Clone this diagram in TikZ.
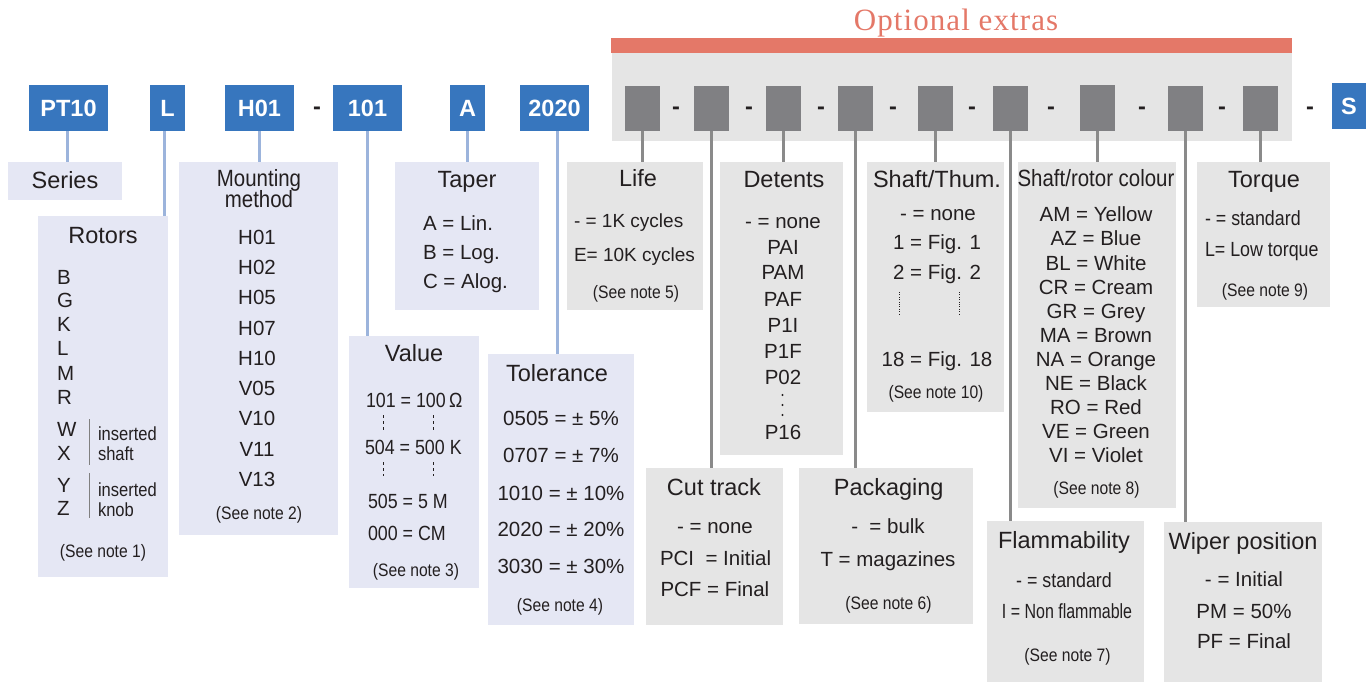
\documentclass[tikz,border=0pt]{standalone}
\usepackage{fontspec}
\setmainfont{Liberation Sans}
\newfontfamily\condA{Liberation Sans}[FakeStretch=0.87]
\newfontfamily\condB{Liberation Sans}[FakeStretch=0.78]
\newfontfamily\serifT{Liberation Serif}[LetterSpace=3.5]
\usetikzlibrary{fit}
\definecolor{bluebx}{HTML}{3776BE}
\definecolor{lavbx}{HTML}{E5E7F4}
\definecolor{blueln}{HTML}{9CB4DC}
\definecolor{greybx}{HTML}{E5E5E5}
\definecolor{darkbx}{HTML}{808083}
\definecolor{greyln}{HTML}{8A8A8A}
\definecolor{redc}{HTML}{E47868}
\definecolor{txt}{HTML}{231F20}
\tikzset{
  bx/.style={inner sep=0pt, outer sep=0pt},
  bluebox/.style={bx, fill=bluebx},
  blab/.style={inner sep=0pt, text=white, font=\fontsize{23.5}{24}\selectfont\bfseries, text height=16.8pt, text depth=0pt},
  lavbox/.style={bx, fill=lavbx},
  greybox/.style={bx, fill=greybx},
  darkbox/.style={bx, fill=darkbx},
  redbar/.style={bx, fill=redc},
  bconn/.style={draw=blueln, line width=3pt},
  gconn/.style={draw=greyln, line width=3pt},
  tx/.style={inner sep=0pt, outer sep=0pt, text=txt, text depth=0pt},
  ttl/.style={tx, font=\fontsize{23.5}{24}\selectfont, text height=16.8pt},
  ttlc/.style={tx, font=\condA\fontsize{23.5}{24}\selectfont, text height=16.8pt},
  bod/.style={tx, font=\fontsize{20.5}{22}\selectfont, text height=14.7pt},
  bods/.style={tx, font=\fontsize{19}{21}\selectfont, text height=13.6pt},
  bodc/.style={tx, font=\condA\fontsize{20.5}{22}\selectfont, text height=14.7pt},
  bodcc/.style={tx, font=\condB\fontsize{20.5}{22}\selectfont, text height=14.7pt},
  nte/.style={tx, font=\condA\fontsize{18}{20}\selectfont, text height=9.4pt},
  smallc/.style={tx, font=\condA\fontsize{19}{20}\selectfont, text height=13.7pt},
  hy/.style={inner sep=0pt, text=txt, font=\fontsize{23.5}{24}\selectfont\bfseries, anchor=base},
  opt/.style={inner sep=0pt, text=redc, font=\serifT\fontsize{31}{32}\selectfont, text height=20.5pt, text depth=0pt},
  vbar/.style={draw=gray, line width=0.9pt},
  dashv/.style={draw=txt, line width=0.8pt, dash pattern=on 3pt off 3pt},
  dotv/.style={draw=txt, line width=0.8pt, dash pattern=on 1pt off 1.4pt},
}
\begin{document}
\begin{tikzpicture}[x=1pt,y=-1pt]
\useasboundingbox (0,0) rectangle (1372,682);

% ---------- optional extras header ----------
\node[opt] (opttitle) at (956,20) {Optional extras};
\node[redbar, fit={(611,38)(1292,53)}] (bar) {};
\node[greybox, fit={(612,53)(1292,141)}] (panel) {};

% ---------- main code row ----------
\node[bluebox, fit={(29,85)(108,131)}] (pt10) {};
\node[bluebox, fit={(150,85)(185,131)}] (bL) {};
\node[bluebox, fit={(225,85)(294,131)}] (bH) {};
\node[bluebox, fit={(333,85)(402,131)}] (b101) {};
\node[bluebox, fit={(450,85)(485,131)}] (bA) {};
\node[bluebox, fit={(520,85)(589,131)}] (b2020) {};
\node[blab] (pt10t) at (pt10.center) {PT10};
\node[blab] (bLt) at (bL.center) {L};
\node[blab] (bHt) at (bH.center) {H01};
\node[blab] (b101t) at (b101.center) {101};
\node[blab] (bAt) at (bA.center) {A};
\node[blab] (b2020t) at (b2020.center) {2020};
\node[hy] (hy0) at (317,114) {-};

% optional grey boxes
\node[darkbox, fit={(625,86)(660,131)}] (g1) {};
\node[darkbox, fit={(694,86)(729,131)}] (g2) {};
\node[darkbox, fit={(766,86)(801,131)}] (g3) {};
\node[darkbox, fit={(838,86)(873,131)}] (g4) {};
\node[darkbox, fit={(918,86)(953,131)}] (g5) {};
\node[darkbox, fit={(993,86)(1028,131)}] (g6) {};
\node[darkbox, fit={(1080,85)(1115,131)}] (g7) {};
\node[darkbox, fit={(1168,86)(1203,131)}] (g8) {};
\node[darkbox, fit={(1243,86)(1278,131)}] (g9) {};
\foreach \xx [count=\i] in {676,749,821,893,972,1051,1142,1222,1310}
  \node[hy] (hy\i) at (\xx,115) {-};
\node[bluebox, fit={(1332,83)(1366,129)}] (bS) {};
\node[blab] (bSt) at (bS.center) {S};

% ---------- description boxes ----------
\node[lavbox, fit={(8,162)(122,200)}] (series) {};
\node[lavbox, fit={(38,216)(168,577)}] (rotors) {};
\node[lavbox, fit={(179,162)(338,535)}] (mount) {};
\node[lavbox, fit={(395,162)(539,310)}] (taper) {};
\node[lavbox, fit={(349,336)(479,588)}] (value) {};
\node[lavbox, fit={(488,354)(634,625)}] (tol) {};

\node[greybox, fit={(567,162)(703,310)}] (life) {};
\node[greybox, fit={(646,468)(783,625)}] (cut) {};
\node[greybox, fit={(720,162)(843,455)}] (det) {};
\node[greybox, fit={(799,468)(973,624)}] (pack) {};
\node[greybox, fit={(867,162)(1004,412)}] (shth) {};
\node[greybox, fit={(1018,162)(1176,508)}] (src) {};
\node[greybox, fit={(987,521)(1144,682)}] (flam) {};
\node[greybox, fit={(1197,162)(1330,307)}] (torq) {};
\node[greybox, fit={(1164,522)(1322,682)}] (wipe) {};

% ---------- connectors ----------
\draw[bconn] ([xshift=-1.5pt]pt10.south) -- ([xshift=-1.5pt]pt10.south |- series.north);
\draw[bconn] ([xshift=-3.5pt]bL.south) -- ([xshift=-3.5pt]bL.south |- rotors.north);
\draw[bconn] (bH.south) -- (bH.south |- mount.north);
\draw[bconn] (b101.south) -- (b101.south |- value.north);
\draw[bconn] (bA.south) -- (bA.south |- taper.north);
\draw[bconn] ([xshift=2.5pt]b2020.south) -- ([xshift=2.5pt]b2020.south |- tol.north);

\draw[gconn] (g1.south) -- (g1.south |- life.north);
\draw[gconn] (g2.south) -- (g2.south |- cut.north);
\draw[gconn] (g3.south) -- (g3.south |- det.north);
\draw[gconn] (g4.south) -- (g4.south |- pack.north);
\draw[gconn] (g5.south) -- (g5.south |- shth.north);
\draw[gconn] (g6.south) -- (g6.south |- flam.north);
\draw[gconn] (g7.south) -- (g7.south |- src.north);
\draw[gconn] (g8.south) -- (g8.south |- wipe.north);
\draw[gconn] (g9.south) -- (g9.south |- torq.north);

% ---------- Series ----------
\node[ttl] (tseries) at (65,180) {Series};

% ---------- Rotors ----------
\node[ttl] (trotors) at (103,235) {Rotors};
\foreach \t/\yy [count=\i] in {B/277,G/300,K/324,L/348,M/373,R/397,W/429,X/453,Y/485,Z/508}
  \node[bod, anchor=west] (rot\i) at (57,\yy) {\t};
\coordinate (bar1a) at (89,419); \coordinate (bar1b) at (89,465);
\coordinate (bar2a) at (89,473); \coordinate (bar2b) at (89,518);
\draw[vbar] (bar1a) -- (bar1b);
\draw[vbar] (bar2a) -- (bar2b);
\node[smallc, anchor=west] (ins1) at (98,434) {inserted};
\node[smallc, anchor=west] (ins2) at (98,454) {shaft};
\node[smallc, anchor=west] (ins3) at (98,490) {inserted};
\node[smallc, anchor=west] (ins4) at (98,510) {knob};
\node[nte] (n1) at (103,553) {(See note 1)};

% ---------- Mounting method ----------
\node[ttlc] (tmount1) at (259,178.5) {Mounting};
\node[ttlc] (tmount2) at (259,199.5) {method};
\foreach \t [count=\i from 0] in {H01,H02,H05,H07,H10,V05,V10,V11,V13}
  \node[bod] (mm\i) at (257,{237+30.25*\i}) {\t};
\node[nte] (n2) at (259,515) {(See note 2)};

% ---------- Taper ----------
\node[ttl] (ttaper) at (467,179) {Taper};
\node[bod, anchor=west] (tp1) at (423,223.5) {A = Lin.};
\node[bod, anchor=west] (tp2) at (423,252.5) {B = Log.};
\node[bod, anchor=west] (tp3) at (423,281.5) {C = Alog.};

% ---------- Value ----------
\node[ttl] (tvalue) at (414,353.5) {Value};
\node[bodc, anchor=west] (v1) at (366,400) {101 = 100\,Ω};
\node[bodc, anchor=west] (v2) at (365,447) {504 = 500 K};
\node[bodc, anchor=west] (v3) at (368,501) {505 = 5 M};
\node[bodc, anchor=west] (v4) at (368,533) {000 = CM};
\coordinate (vd1a) at (383,415); \coordinate (vd1b) at (383,430);
\coordinate (vd2a) at (433,415); \coordinate (vd2b) at (433,430);
\coordinate (vd3a) at (383,462); \coordinate (vd3b) at (383,476);
\coordinate (vd4a) at (433,462); \coordinate (vd4b) at (433,476);
\draw[dashv] (vd1a) -- (vd1b);
\draw[dashv] (vd2a) -- (vd2b);
\draw[dashv] (vd3a) -- (vd3b);
\draw[dashv] (vd4a) -- (vd4b);
\node[nte] (n3) at (416,572) {(See note 3)};

% ---------- Tolerance ----------
\node[ttl] (ttol) at (557,373.5) {Tolerance};
\foreach \t/\yy [count=\i] in {{0505 = ± 5\%}/418,{0707 = ± 7\%}/454.7,{1010 = ± 10\%}/493,{2020 = ± 20\%}/529.5,{3030 = ± 30\%}/566}
  \node[bod] (tl\i) at (561,\yy) {\t};
\node[nte] (n4) at (560,607) {(See note 4)};

% ---------- Life ----------
\node[ttl] (tlife) at (638,178.5) {Life};
\node[bods, anchor=west] (lf1) at (574,220.5) {- = 1K cycles};
\node[bods, anchor=west] (lf2) at (574,255) {E= 10K cycles};
\node[nte] (n5) at (636,293.5) {(See note 5)};

% ---------- Detents ----------
\node[ttl] (tdet) at (784,179) {Detents};
\foreach \t/\yy [count=\i] in {{- = none}/221,PAI/246.7,PAM/272.5,PAF/299,P1I/325,P1F/351.5,P02/377.5,P16/432.5}
  \node[bod] (dt\i) at (783,\yy) {\t};
\foreach \yy [count=\i] in {395,405,415}
  \fill[txt] (782.5,\yy) circle (1.1pt);

% ---------- Cut track ----------
\node[ttl] (tcut) at (714,487) {Cut track};
\node[bod] (ct1) at (715,526.5) {- = none};
\node[bod, anchor=west] (ct2) at (660,558) {PCI\ \ = Initial};
\node[bod, anchor=west] (ct3) at (660.5,589.5) {PCF = Final};

% ---------- Packaging ----------
\node[ttl] (tpack) at (888.7,487) {Packaging};
\node[bod] (pk1) at (888,526.5) {-\ \ = bulk};
\node[bod] (pk2) at (888,559) {T = magazines};
\node[nte] (n6) at (888.5,605) {(See note 6)};

% ---------- Shaft/Thum. ----------
\node[ttl] (tshth) at (937,179) {Shaft/Thum.};
\node[bod] (st1) at (938,213) {- = none};
\node[bod] (st2) at (937,242.5) {1 = Fig. 1};
\node[bod] (st3) at (937,272.5) {2 = Fig. 2};
\node[bod] (st4) at (937,359.5) {18 = Fig. 18};
\coordinate (sd1a) at (899,292); \coordinate (sd1b) at (899,315);
\coordinate (sd2a) at (959,292); \coordinate (sd2b) at (959,315);
\draw[dotv] (sd1a) -- (sd1b);
\draw[dotv] (sd2a) -- (sd2b);
\node[nte] (n10) at (936,394) {(See note 10)};

% ---------- Shaft/rotor colour ----------
\node[ttlc] (tsrc) at (1096,178.5) {Shaft/rotor colour};
\foreach \t [count=\i from 0] in {AM = Yellow,AZ = Blue,BL = White,CR = Cream,GR = Grey,MA = Brown,NA = Orange,NE = Black,RO = Red,VE = Green,VI = Violet}
  \node[bod] (sc\i) at (1096,{214.5+24.1*\i}) {\t};
\node[nte] (n8) at (1096.5,490) {(See note 8)};

% ---------- Torque ----------
\node[ttl] (ttorq) at (1264,179) {Torque};
\node[bodc, anchor=west] (tq1) at (1205,218.5) {- = standard};
\node[bodc, anchor=west] (tq2) at (1205,249.5) {L= Low torque};
\node[nte] (n9) at (1265,292) {(See note 9)};

% ---------- Flammability ----------
\node[ttl] (tflam) at (1064,540.5) {Flammability};
\node[bodc] (fl1) at (1064,580) {- = standard};
\node[bodcc] (fl2) at (1067,611.5) {I = Non flammable};
\node[nte] (n7) at (1067.5,657) {(See note 7)};

% ---------- Wiper position ----------
\node[ttl] (twipe) at (1243,541) {Wiper position};
\node[bod] (wp1) at (1244,579.5) {- = Initial};
\node[bod] (wp2) at (1244,611.5) {PM = 50\%};
\node[bod] (wp3) at (1244,641.5) {PF = Final};
\end{tikzpicture}
\end{document}
